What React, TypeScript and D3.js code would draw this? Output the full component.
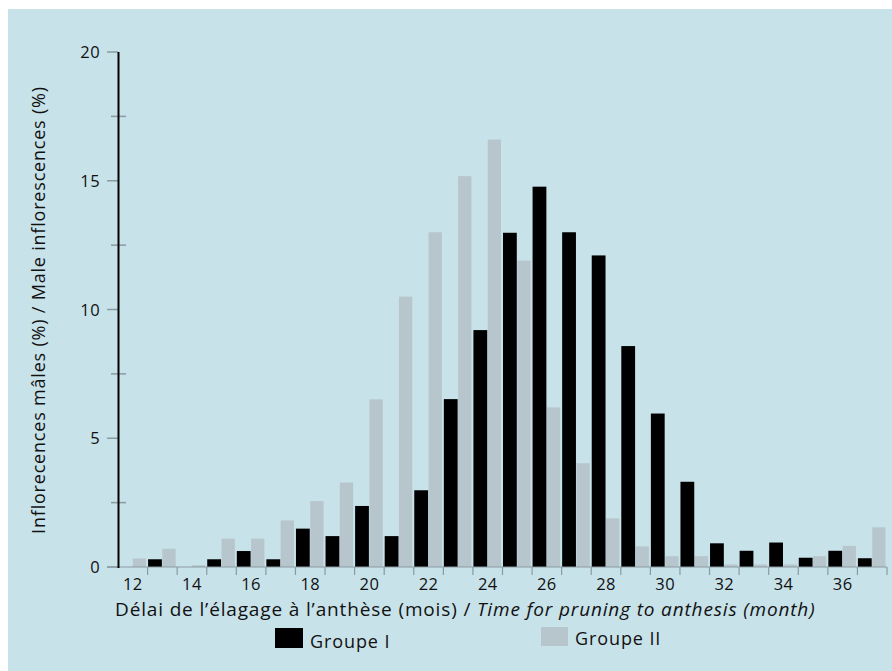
import React from "react";
import * as d3 from "d3";

const months = [12,13,14,15,16,17,18,19,20,21,22,23,24,25,26,27,28,29,30,31,32,33,34,35,36,37];
const groupI = [0,0.3,0,0.3,0.62,0.3,1.49,1.2,2.37,1.2,2.98,6.52,9.2,12.98,14.77,13.0,12.1,8.58,5.96,3.31,0.92,0.63,0.95,0.36,0.63,0.34];
const groupII = [0.33,0.71,0.07,1.1,1.1,1.81,2.56,3.28,6.51,10.5,13.0,15.18,16.6,11.9,6.2,4.03,1.89,0.8,0.42,0.42,0.1,0.1,0.1,0.42,0.82,1.54];
const yMajor = [0,5,10,15,20];
const yMinor = [2.5,7.5,12.5,17.5];
const xLabels = [12,14,16,18,20,22,24,26,28,30,32,34,36];

const FONT = "'Open Sans', 'DejaVu Sans', sans-serif";

export default function App() {
  const W = 892, H = 671;
  const x = d3.scaleLinear().domain([12, 38]).range([118, 887]);
  const y = d3.scaleLinear().domain([0, 20]).range([567, 52]);
  const bw = x(13) - x(12);
  return (
    <svg width={W} height={H} style={{ position: "absolute", left: 0, top: 0 }}>
      <rect x={8} y={9} width={W - 8} height={H - 9} fill="#c8e2ea" />
      {/* bars */}
      {months.map((m, i) => (
        <g key={m}>
          <rect x={x(m) + bw / 2} y={y(groupII[i])} width={bw / 2 - 1.5} height={y(0) - y(groupII[i])} fill="#b6c6cc" />
          <rect x={x(m) + 0.5} y={y(groupI[i])} width={bw / 2 - 1} height={y(0) - y(groupI[i])} fill="#000" />
        </g>
      ))}
      {/* x baseline */}
      <line x1={107} x2={887} y1={y(0)} y2={y(0)} stroke="#8a9a9f" strokeWidth={1.2} />
      {d3.range(13, 39).map((m) => (
        <line key={m} x1={x(m)} x2={x(m)} y1={y(0)} y2={y(0) + 8} stroke="#8a9a9f" strokeWidth={1.2} />
      ))}
      {xLabels.map((m) => (
        <text key={m} x={x(m) + bw / 2} y={590} textAnchor="middle" fontFamily={FONT} fontSize={16.5} letterSpacing={0.4} fill="#111">{m}</text>
      ))}
      {/* y axis */}
      {yMajor.map((v) => (
        <g key={v}>
          <line x1={107} x2={118} y1={y(v)} y2={y(v)} stroke="#8a9a9f" strokeWidth={1.5} />
          <text x={100} y={y(v) + 6} textAnchor="end" fontFamily={FONT} fontSize={16.5} letterSpacing={0.4} fill="#111">{v}</text>
        </g>
      ))}
      {yMinor.map((v) => (
        <line key={v} x1={111} x2={126} y1={y(v)} y2={y(v)} stroke="#8a9a9f" strokeWidth={1.5} />
      ))}
      <line x1={118.5} x2={118.5} y1={52} y2={568} stroke="#000" strokeWidth={2} />
      {/* y title */}
      <text transform="translate(45,310) rotate(-90)" textAnchor="middle" fontFamily={FONT} fontSize={18} letterSpacing={0.8} fill="#111">
        Inflorecences mâles (%) / Male inflorescences (%)
      </text>
      {/* x title */}
      <text x={115} y={616} fontFamily={FONT} fontSize={19} letterSpacing={0.85} fill="#111">
        Délai de l’élagage à l’anthèse (mois) / <tspan fontStyle="italic">Time for pruning to anthesis (month)</tspan>
      </text>
      {/* legend */}
      <rect x={275} y={628} width={28} height={20} fill="#000" />
      <text x={310} y={648} fontFamily={FONT} fontSize={18} letterSpacing={0.9} fill="#111">Groupe I</text>
      <rect x={541} y={627} width={27} height={19} fill="#b6c6cc" />
      <text x={575} y={645} fontFamily={FONT} fontSize={18} letterSpacing={0.9} fill="#111">Groupe II</text>
    </svg>
  );
}
